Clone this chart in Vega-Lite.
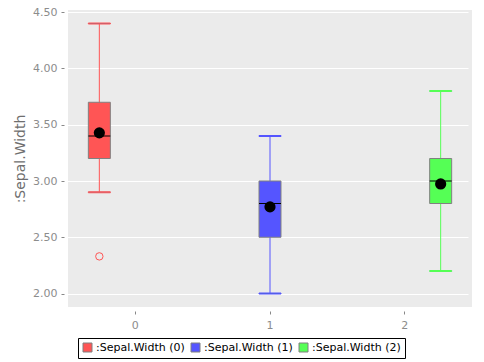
{
  "$schema": "https://vega.github.io/schema/vega-lite/v6.json",
  "autosize": "none",
  "width": 404,
  "height": 297,
  "padding": {"left": 68, "top": 10, "right": 12, "bottom": 55},
  "background": "white",
  "config": {
    "view": {"fill": "#EBEBEB", "stroke": null},
    "font": "DejaVu Sans",
    "axis": {
      "domain": false,
      "tickColor": "#888888",
      "tickSize": 3,
      "offset": 4,
      "labelFont": "DejaVu Sans",
      "labelFontSize": 11,
      "labelColor": "#8C8C8C",
      "titleFont": "DejaVu Sans",
      "titleFontSize": 14,
      "titleFontWeight": "normal",
      "titleColor": "#6E6E6E",
      "gridColor": "white",
      "gridWidth": 1,
      "gridOpacity": 1
    }
  },
  "datasets": {
    "boxes": [
      {"cat": "0", "series": "0", "label": ":Sepal.Width (0)", "lo": 2.9, "q1": 3.2, "median": 3.4, "q3": 3.7, "hi": 4.4, "mean": 3.428},
      {"cat": "1", "series": "1", "label": ":Sepal.Width (1)", "lo": 2.0, "q1": 2.5, "median": 2.8, "q3": 3.0, "hi": 3.4, "mean": 2.77},
      {"cat": "2", "series": "2", "label": ":Sepal.Width (2)", "lo": 2.2, "q1": 2.8, "median": 3.0, "q3": 3.2, "hi": 3.8, "mean": 2.974}
    ],
    "outliers": [
      {"cat": "0", "series": "0", "label": ":Sepal.Width (0)", "value": 2.33}
    ]
  },
  "encoding": {
    "x": {
      "field": "cat", "type": "nominal",
      "scale": {"domain": ["0", "1", "2"], "paddingInner": 0, "paddingOuter": 0},
      "axis": {"title": null, "labelAngle": 0, "grid": false, "labelPadding": 5}
    },
    "xOffset": {
      "field": "series", "type": "nominal",
      "scale": {"domain": ["0", "1", "2"], "paddingInner": 0.389, "paddingOuter": 0.565}
    }
  },
  "resolve": {"legend": {"fill": "independent", "stroke": "independent"}},
  "layer": [
    {
      "data": {"name": "boxes"},
      "mark": {"type": "rule", "strokeWidth": 1, "opacity": 1},
      "encoding": {
        "y": {
          "field": "lo", "type": "quantitative",
          "scale": {"domain": [1.88, 4.52], "nice": false, "zero": false},
          "axis": {
            "title": ":Sepal.Width",
            "values": [2.0, 2.25, 2.5, 2.75, 3.0, 3.25, 3.5, 3.75, 4.0, 4.25, 4.5],
            "format": ".2f",
            "labelPadding": 4,
            "titlePadding": 5
          }
        },
        "y2": {"field": "hi"},
        "stroke": {
          "field": "label", "type": "nominal",
          "scale": {"domain": [":Sepal.Width (0)", ":Sepal.Width (1)", ":Sepal.Width (2)"], "range": ["#FF5555", "#5555FF", "#55FF55"]},
          "legend": null
        }
      }
    },
    {
      "data": {"name": "boxes"},
      "mark": {"type": "tick", "thickness": 1, "size": 22, "opacity": 1},
      "encoding": {
        "y": {"field": "lo", "type": "quantitative"},
        "stroke": {"field": "label", "type": "nominal", "legend": null}
      }
    },
    {
      "data": {"name": "boxes"},
      "mark": {"type": "tick", "thickness": 1, "size": 22, "opacity": 1},
      "encoding": {
        "y": {"field": "hi", "type": "quantitative"},
        "stroke": {"field": "label", "type": "nominal", "legend": null}
      }
    },
    {
      "data": {"name": "boxes"},
      "mark": {"type": "bar", "stroke": "#808080", "strokeWidth": 1, "opacity": 1},
      "encoding": {
        "y": {"field": "q1", "type": "quantitative"},
        "y2": {"field": "q3"},
        "fill": {
          "field": "label", "type": "nominal",
          "scale": {"domain": [":Sepal.Width (0)", ":Sepal.Width (1)", ":Sepal.Width (2)"], "range": ["#FF5555", "#5555FF", "#55FF55"]},
          "legend": {
            "title": null,
            "orient": "none",
            "direction": "horizontal",
            "legendX": 10,
            "legendY": 328,
            "symbolType": "square",
            "symbolSize": 81,
            "symbolStrokeColor": "#808080",
            "symbolStrokeWidth": 1,
            "symbolOpacity": 1,
            "labelFont": "DejaVu Sans",
            "labelFontSize": 11,
            "labelColor": "black",
            "labelOffset": 3,
            "columnPadding": 4,
            "strokeColor": "black",
            "fillColor": "white",
            "padding": 4,
            "offset": 0
          }
        }
      }
    },
    {
      "data": {"name": "boxes"},
      "mark": {"type": "tick", "thickness": 1, "size": 22, "color": "black", "opacity": 1},
      "encoding": {
        "y": {"field": "median", "type": "quantitative"}
      }
    },
    {
      "data": {"name": "boxes"},
      "mark": {"type": "point", "filled": true, "size": 125, "color": "black", "opacity": 1},
      "encoding": {
        "y": {"field": "mean", "type": "quantitative"}
      }
    },
    {
      "data": {"name": "outliers"},
      "mark": {"type": "point", "filled": false, "size": 55, "strokeWidth": 1, "opacity": 1},
      "encoding": {
        "y": {"field": "value", "type": "quantitative"},
        "stroke": {"field": "label", "type": "nominal", "legend": null}
      }
    }
  ]
}
